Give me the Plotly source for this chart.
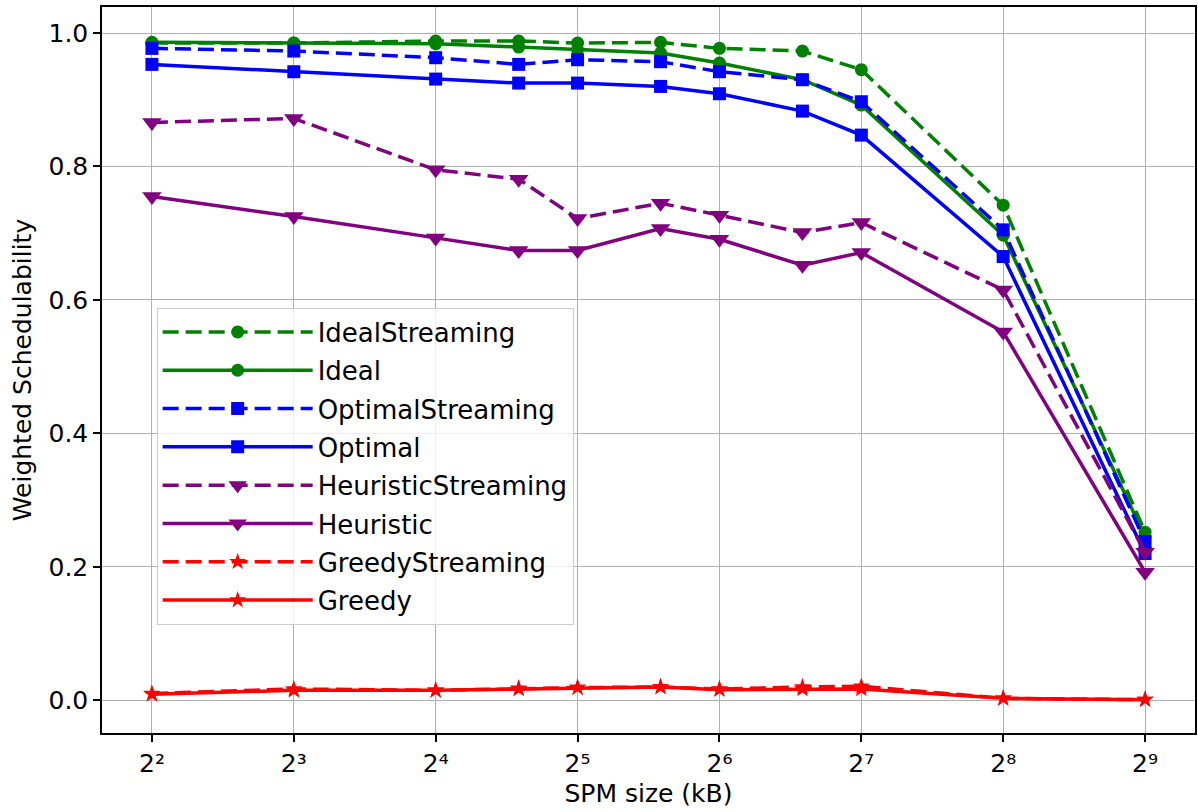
import math
import plotly.graph_objects as go

# SPM sizes in kB
spm_size = [4, 8, 16, 24, 32, 48, 64, 96, 128, 256, 512]

ideal_streaming = [0.985, 0.985, 0.988, 0.988, 0.985, 0.986, 0.977, 0.973, 0.945, 0.742, 0.252]
ideal = [0.986, 0.985, 0.984, 0.979, 0.975, 0.970, 0.955, 0.930, 0.892, 0.697, 0.245]
optimal_streaming = [0.977, 0.973, 0.963, 0.953, 0.960, 0.957, 0.942, 0.930, 0.897, 0.705, 0.238]
optimal = [0.953, 0.942, 0.931, 0.925, 0.925, 0.920, 0.909, 0.883, 0.847, 0.665, 0.220]
heuristic_streaming = [0.866, 0.872, 0.795, 0.781, 0.722, 0.745, 0.727, 0.701, 0.716, 0.615, 0.222]
heuristic = [0.755, 0.725, 0.693, 0.674, 0.674, 0.707, 0.691, 0.652, 0.671, 0.552, 0.192]
greedy_streaming = [0.010, 0.017, 0.015, 0.018, 0.019, 0.020, 0.017, 0.020, 0.021, 0.003, 0.001]
greedy = [0.009, 0.015, 0.015, 0.017, 0.019, 0.020, 0.016, 0.017, 0.017, 0.003, 0.001]

tick_vals = [4, 8, 16, 32, 64, 128, 256, 512]
tick_text = ["2²", "2³", "2⁴", "2⁵", "2⁶", "2⁷", "2⁸", "2⁹"]

FONT = "DejaVu Sans"
DASH = "16px,7px"
LW = 3.5

series = [
    ("IdealStreaming", ideal_streaming, "green", DASH, "circle", 13),
    ("Ideal", ideal, "green", "solid", "circle", 13),
    ("OptimalStreaming", optimal_streaming, "blue", DASH, "square", 13),
    ("Optimal", optimal, "blue", "solid", "square", 13),
    ("HeuristicStreaming", heuristic_streaming, "purple", DASH, "triangle-down", 17),
    ("Heuristic", heuristic, "purple", "solid", "triangle-down", 17),
    ("GreedyStreaming", greedy_streaming, "red", DASH, "star", 13),
    ("Greedy", greedy, "red", "solid", "star", 13),
]

fig = go.Figure()
for name, vals, color, dash, symbol, msize in series:
    fig.add_trace(go.Scatter(
        x=spm_size, y=vals, name=name, mode="lines+markers",
        legendgroup=name,
        line=dict(color=color, width=LW, dash=dash),
        marker=dict(color=color, symbol=symbol, size=msize, line=dict(width=0)),
    ))

log2 = math.log10(2)
fig.update_layout(
    width=1198, height=812,
    margin=dict(l=102, r=1, t=7, b=79),
    paper_bgcolor="white", plot_bgcolor="white",
    font=dict(family=FONT, size=25, color="black"),
    showlegend=True,
    legend=dict(
        x=0.05, y=0.586, xanchor="left", yanchor="top",
        bgcolor="rgba(255,255,255,0.8)", bordercolor="#cccccc", borderwidth=1,
        font=dict(family=FONT, size=26, color="black"),
        itemwidth=150, tracegroupgap=1.5, traceorder="grouped",
    ),
    xaxis=dict(
        type="log",
        range=[1.648 * log2, 9.352 * log2],
        tickvals=tick_vals, ticktext=tick_text,
        showgrid=True, gridcolor="#b0b0b0", gridwidth=1,
        showline=True, linecolor="black", linewidth=1.5, mirror=True,
        ticks="outside", ticklen=7, tickwidth=1.5, tickcolor="black",
        tickfont=dict(family=FONT, size=25),
        title=dict(text="SPM size (kB)", font=dict(family=FONT, size=25), standoff=8),
        zeroline=False,
    ),
    yaxis=dict(
        range=[-0.049, 1.039],
        tickvals=[0.0, 0.2, 0.4, 0.6, 0.8, 1.0], tickformat=".1f",
        showgrid=True, gridcolor="#b0b0b0", gridwidth=1,
        showline=True, linecolor="black", linewidth=1.5, mirror=True,
        ticks="outside", ticklen=7, tickwidth=1.5, tickcolor="black",
        tickfont=dict(family=FONT, size=25),
        title=dict(text="Weighted Schedulability", font=dict(family=FONT, size=25), standoff=10),
        zeroline=False,
    ),
)

fig.write_html("out.html")
